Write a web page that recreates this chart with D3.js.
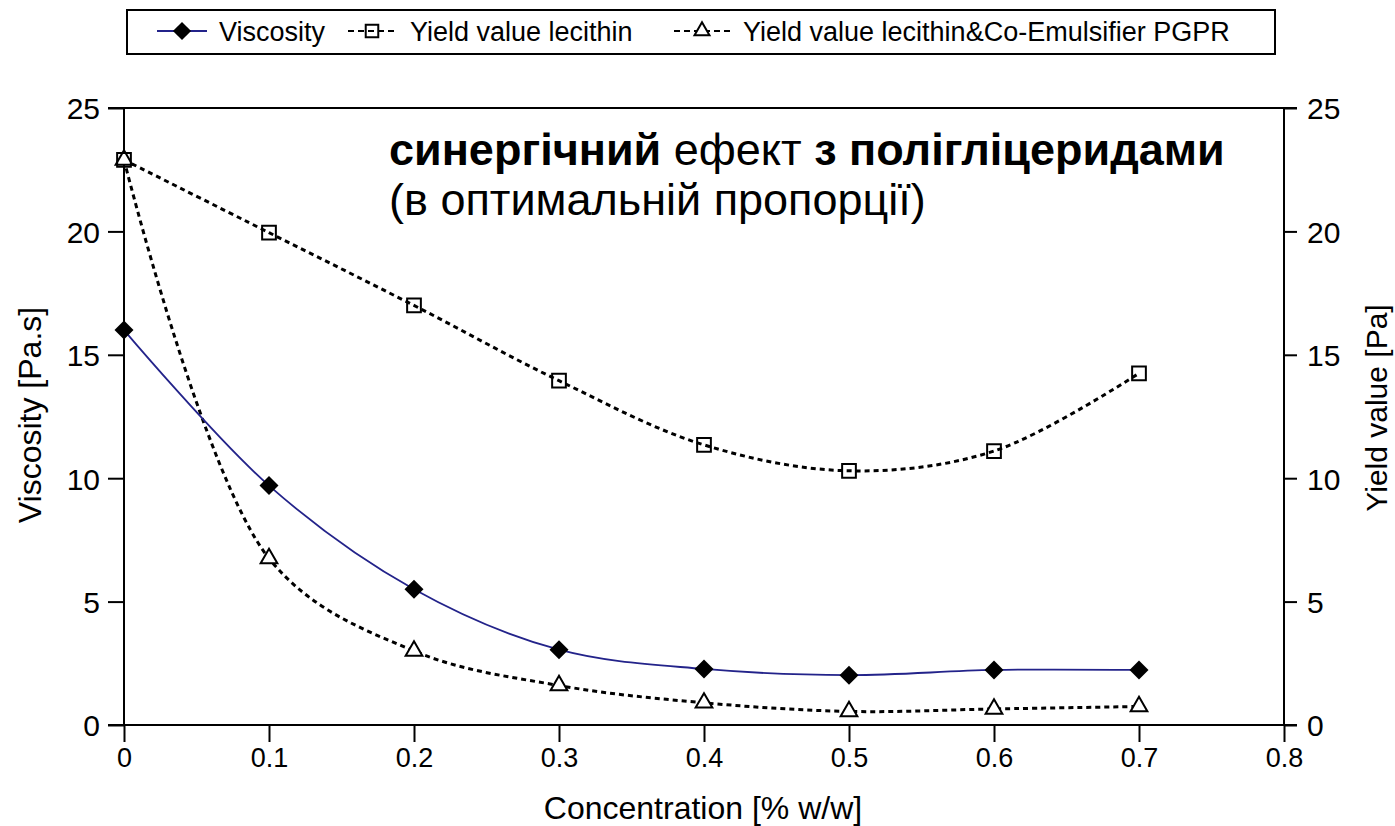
<!DOCTYPE html>
<html>
<head>
<meta charset="utf-8">
<script src="https://cdn.jsdelivr.net/npm/d3@7"></script>
<style>
  html, body { margin: 0; padding: 0; background: #fff; }
  svg { display: block; font-family: "Liberation Sans", Arial, Helvetica, sans-serif; }
</style>
</head>
<body>
<svg id="chart" width="1395" height="826"></svg>
<script>
// Concentration of emulsifier, % w/w
const concentration = [0, 0.1, 0.2, 0.3, 0.4, 0.5, 0.6, 0.7];
// Viscosity, Pa.s (left axis)
const viscosity = [16.0, 9.7, 5.5, 3.05, 2.27, 2.02, 2.23, 2.23];
// Yield value with lecithin only, Pa (right axis)
const yieldLecithin = [22.9, 19.95, 17.0, 13.95, 11.35, 10.3, 11.1, 14.25];
// Yield value with lecithin & co-emulsifier PGPR, Pa (right axis)
const yieldPGPR = [22.9, 6.75, 3.0, 1.6, 0.9, 0.55, 0.65, 0.75];

const xTicks = [0, 0.1, 0.2, 0.3, 0.4, 0.5, 0.6, 0.7, 0.8];
const yTicks = [0, 5, 10, 15, 20, 25];

const legendLabels = ["Viscosity", "Yield value lecithin", "Yield value lecithin&Co-Emulsifier PGPR"];
const noteLine1 = [["синергічний", true], [" ефект ", false], ["з полігліцеридами", true]];
const noteLine2 = "(в оптимальній пропорції)";

const svg = d3.select("#chart");
const L = 124, R = 1284, T = 108, B = 725;

const x = d3.scaleLinear().domain([0, 0.8]).range([L, R]);
const yLeft = d3.scaleLinear().domain([0, 25]).range([B, T]);
const yRight = d3.scaleLinear().domain([0, 25]).range([B, T]);

const navy = "#23238a";

// axes
const axisStyle = size => g => {
  g.select(".domain").remove();
  g.selectAll(".tick line").attr("stroke", "#000").attr("stroke-width", 2);
  g.selectAll(".tick text").attr("fill", "#000").style("font-size", size + "px");
};

svg.append("g").attr("transform", `translate(0,${B})`)
  .call(d3.axisBottom(x).tickValues(xTicks).tickSize(17).tickPadding(6)
    .tickFormat(d => d === 0 ? "0" : d3.format(".1f")(d)))
  .call(axisStyle(27));

svg.append("g").attr("transform", `translate(${L},0)`)
  .call(d3.axisLeft(yLeft).tickValues(yTicks).tickSize(16).tickPadding(8))
  .call(axisStyle(30))
  .selectAll(".tick text").attr("dy", "0.36em");

svg.append("g").attr("transform", `translate(${R},0)`)
  .call(d3.axisRight(yRight).tickValues(yTicks).tickSize(13).tickPadding(10))
  .call(axisStyle(30))
  .selectAll(".tick text").attr("dy", "0.36em");

// frame: left, bottom, right axis lines and top border
const frame = svg.append("g").attr("stroke", "#000").attr("stroke-width", 2).attr("fill", "none");
frame.append("line").attr("x1", L).attr("x2", L).attr("y1", T).attr("y2", B);
frame.append("line").attr("x1", R).attr("x2", R).attr("y1", T).attr("y2", B);
frame.append("line").attr("x1", L - 16).attr("x2", R + 13).attr("y1", B).attr("y2", B);
frame.append("line").attr("x1", L - 16).attr("x2", R + 13).attr("y1", T).attr("y2", T);

// axis titles
svg.append("text").attr("x", 703).attr("y", 819)
  .attr("text-anchor", "middle").style("font-size", "32px").text("Concentration [% w/w]");
svg.append("text").attr("transform", `translate(41,415) rotate(-90)`)
  .attr("text-anchor", "middle").style("font-size", "32px").text("Viscosity [Pa.s]");
svg.append("text").attr("transform", `translate(1387,408) rotate(-90)`)
  .attr("text-anchor", "middle").style("font-size", "30px").text("Yield value [Pa]");

// series
const curve = d3.curveCatmullRom.alpha(0.5);
const lineL = d3.line().x((d, i) => x(concentration[i])).y(d => yLeft(d)).curve(curve);
const lineR = d3.line().x((d, i) => x(concentration[i])).y(d => yRight(d)).curve(curve);

svg.append("path").datum(yieldLecithin).attr("d", lineR)
  .attr("fill", "none").attr("stroke", "#000").attr("stroke-width", 3).attr("stroke-dasharray", "5,4");
svg.append("path").datum(yieldPGPR).attr("d", lineR)
  .attr("fill", "none").attr("stroke", "#000").attr("stroke-width", 3).attr("stroke-dasharray", "5,4");
svg.append("path").datum(viscosity).attr("d", lineL)
  .attr("fill", "none").attr("stroke", navy).attr("stroke-width", 1.8);

const diamond = d3.symbol().type(d3.symbolDiamond2).size(230);
const square = d3.symbol().type(d3.symbolSquare2).size(240);
const triangle = d3.symbol().type(d3.symbolTriangle2).size(200);

svg.append("g").selectAll("path").data(yieldPGPR).join("path")
  .attr("transform", (d, i) => `translate(${x(concentration[i])},${yRight(d)})`)
  .attr("d", triangle).attr("fill", "#fff").attr("stroke", "#000").attr("stroke-width", 2);
svg.append("g").selectAll("path").data(yieldLecithin).join("path")
  .attr("transform", (d, i) => `translate(${x(concentration[i])},${yRight(d)})`)
  .attr("d", square).attr("fill", "none").attr("stroke", "#000").attr("stroke-width", 2);
svg.append("g").selectAll("path").data(viscosity).join("path")
  .attr("transform", (d, i) => `translate(${x(concentration[i])},${yLeft(d)})`)
  .attr("d", diamond).attr("fill", "#000");

// legend
const lg = svg.append("g");
lg.append("rect").attr("x", 127).attr("y", 10).attr("width", 1148).attr("height", 44)
  .attr("fill", "#fff").attr("stroke", "#000").attr("stroke-width", 2);
const legendY = 31;
const items = [
  { sx: 157, ex: 207, mx: 182, tx: 219, sym: d3.symbol().type(d3.symbolDiamond2).size(210), fill: "#000", stroke: "none", lineColor: navy, dash: null },
  { sx: 348, ex: 398, mx: 372, tx: 410, sym: d3.symbol().type(d3.symbolSquare2).size(200), fill: "none", stroke: "#000", lineColor: "#000", dash: "6,4" },
  { sx: 674, ex: 730, mx: 702, tx: 743, sym: d3.symbol().type(d3.symbolTriangle2).size(160), fill: "#fff", stroke: "#000", lineColor: "#000", dash: "6,4" }
];
items.forEach((it, i) => {
  lg.append("line").attr("x1", it.sx).attr("x2", it.ex).attr("y1", legendY).attr("y2", legendY)
    .attr("stroke", it.lineColor).attr("stroke-width", 2).attr("stroke-dasharray", it.dash);
  lg.append("path").attr("transform", `translate(${it.mx},${legendY})`).attr("d", it.sym)
    .attr("fill", it.fill).attr("stroke", it.stroke).attr("stroke-width", 2);
  lg.append("text").attr("x", it.tx).attr("y", legendY).attr("dy", "0.36em")
    .style("font-size", "27px").text(legendLabels[i]);
});

// annotation
const note = svg.append("text").attr("x", 389).attr("y", 165).style("font-size", "45px");
noteLine1.forEach(([t, bold]) => {
  note.append("tspan").attr("font-weight", bold ? "bold" : "normal").text(t);
});
svg.append("text").attr("x", 389).attr("y", 215).style("font-size", "45px").text(noteLine2);
</script>
</body>
</html>
